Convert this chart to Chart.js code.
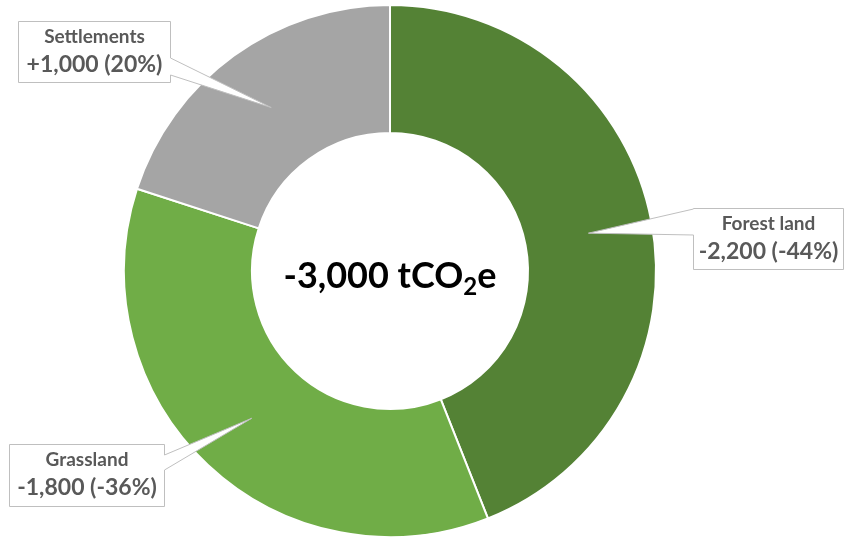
<!DOCTYPE html>
<html>
<head>
<meta charset="utf-8">
<script src="https://cdn.jsdelivr.net/npm/chart.js@4/dist/chart.umd.min.js"></script>
<style>
  html, body { margin: 0; padding: 0; background: #fff; }
</style>
</head>
<body>
<canvas id="land-use" width="845" height="538"></canvas>
<script>
const landUses = ['Forest land', 'Grassland', 'Settlements'];
const emissions = [-2200, -1800, 1000];   // tCO2e per land use
const sliceColors = ['#548235', '#70AD47', '#A5A5A5'];
const unitLabel = ['tCO', '2', 'e'];

// where each callout box sits, and which side its pointer leaves from
const calloutBoxes = [
  { x: 693, y: 208, w: 151, h: 62, side: 'left', from: 209, to: 235 },
  { x: 9, y: 444, w: 156, h: 63, side: 'right', from: 455, to: 470 },
  { x: 18, y: 21, w: 153, h: 62, side: 'right', from: 58, to: 75 }
];

const totalAbs = emissions.reduce((s, v) => s + Math.abs(v), 0);
const netTotal = emissions.reduce((s, v) => s + v, 0);

function formatNumber(value, withPlus){
  const txt = value.toLocaleString('en-US');
  return (withPlus && value > 0 ? '+' : '') + txt;
}

function calloutText(i){
  const value = emissions[i];
  const pct = Math.round(value / totalAbs * 100);
  return formatNumber(value, true) + ' (' + pct + '%)';
}

function calloutPath(ctx, box, tip){
  const x0 = box.x + 0.5, y0 = box.y + 0.5;
  const x1 = box.x + box.w - 0.5, y1 = box.y + box.h - 0.5;
  ctx.beginPath();
  ctx.moveTo(x0, y0);
  ctx.lineTo(x1, y0);
  if(box.side === 'right'){
    ctx.lineTo(x1, box.from);
    ctx.lineTo(tip.x, tip.y);
    ctx.lineTo(x1, box.to);
  }
  ctx.lineTo(x1, y1);
  ctx.lineTo(x0, y1);
  if(box.side === 'left'){
    ctx.lineTo(x0, box.to);
    ctx.lineTo(tip.x, tip.y);
    ctx.lineTo(x0, box.from);
  }
  ctx.closePath();
}

const calloutPlugin = {
  id: 'callouts',
  afterDraw(chart){
    const {ctx} = chart;
    const arcs = chart.getDatasetMeta(0).data;

    ctx.save();
    arcs.forEach((arc, i) => {
      const box = calloutBoxes[i];
      const tip = arc.tooltipPosition();
      calloutPath(ctx, box, tip);
      ctx.fillStyle = '#ffffff';
      ctx.fill();
      ctx.strokeStyle = '#BFBFBF';
      ctx.lineWidth = 1;
      ctx.stroke();

      const cx = box.x + box.w / 2;
      ctx.fillStyle = '#595959';
      ctx.textAlign = 'center';
      ctx.textBaseline = 'alphabetic';
      ctx.font = 'bold 19px Lato';
      ctx.fillText(landUses[i], cx, box.y + 22);
      ctx.font = 'bold 23px Lato';
      ctx.fillText(calloutText(i), cx, box.y + 51);
    });

    // total in the hole
    const first = arcs[0];
    const mainText = formatNumber(netTotal) + ' ' + unitLabel[0];
    ctx.fillStyle = '#000000';
    ctx.textAlign = 'left';
    ctx.font = 'bold 36px Lato';
    const w1 = ctx.measureText(mainText).width;
    const w3 = ctx.measureText(unitLabel[2]).width;
    ctx.font = 'bold 24px Lato';
    const w2 = ctx.measureText(unitLabel[1]).width;
    const startX = first.x - (w1 + w2 + w3) / 2;
    const baseY = first.y + 17;
    ctx.font = 'bold 36px Lato';
    ctx.fillText(mainText, startX, baseY);
    ctx.font = 'bold 24px Lato';
    ctx.fillText(unitLabel[1], startX + w1, baseY + 7);
    ctx.font = 'bold 36px Lato';
    ctx.fillText(unitLabel[2], startX + w1 + w2, baseY);
    ctx.restore();
  }
};

new Chart(document.getElementById('land-use'), {
  type: 'doughnut',
  data: {
    labels: landUses,
    datasets: [{
      data: emissions.map(v => Math.abs(v)),
      backgroundColor: sliceColors,
      borderColor: '#ffffff',
      borderWidth: 2
    }]
  },
  options: {
    responsive: false,
    devicePixelRatio: 1,
    animation: false,
    events: [],
    radius: 266,
    cutout: 138,
    layout: { padding: { left: 0, right: 65, top: 4, bottom: 0 } },
    plugins: {
      legend: { display: false },
      tooltip: { enabled: false }
    }
  },
  plugins: [calloutPlugin]
});
</script>
</body>
</html>
